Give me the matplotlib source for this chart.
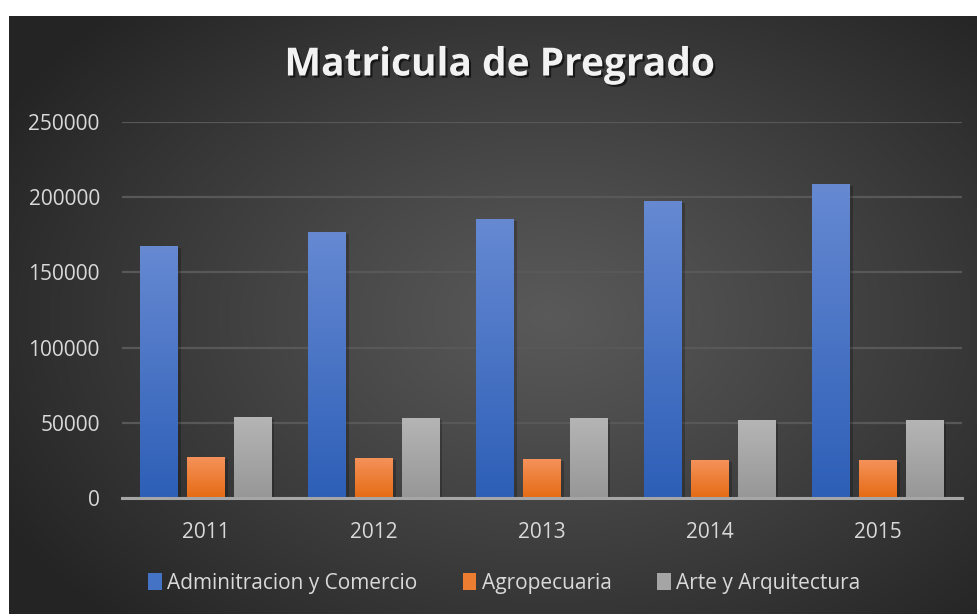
import numpy as np
import matplotlib
matplotlib.use("Agg")
import matplotlib.pyplot as plt
import matplotlib.patheffects as pe
from matplotlib.patches import Patch

years = ["2011", "2012", "2013", "2014", "2015"]
admin = [167500, 177000, 185500, 197500, 208800]
agro = [27300, 26600, 26000, 25500, 25300]
arte = [53900, 53200, 53200, 52000, 51900]
series_names = ["Adminitracion y Comercio", "Agropecuaria", "Arte y Arquitectura"]

# top / bottom colours for the vertical bar gradients
grads = [("#6689d2", "#2d5fb7"), ("#f5935c", "#e56b14"), ("#b5b5b5", "#979797")]
solid = ["#4472c4", "#ed7d31", "#a5a5a5"]
txt = "#d9d9d9"

plt.rcParams["font.family"] = ["Open Sans", "DejaVu Sans"]

W, H = 977, 614
fig = plt.figure(figsize=(W / 100, H / 100), dpi=100)
fig.patch.set_facecolor("white")

# radial gradient chart background
bg = fig.add_axes([9 / W, 0, (W - 9) / W, (H - 16) / H], zorder=-5)
yy, xx = np.mgrid[0:H - 16, 0:W - 9]
r = np.sqrt(((xx - 540) / 620.0) ** 2 + ((yy - 300) / 420.0) ** 2)
r = np.clip(r, 0, 1)
lvl = 0.35 + (0.145 - 0.35) * r ** 1.1
bg.imshow(np.dstack([lvl, lvl, lvl]), aspect="auto", interpolation="bilinear")
bg.axis("off")

ax = fig.add_axes([122 / W, (H - 498) / H, (962 - 122) / W, (498 - 122) / H])
ax.set_facecolor("none")

x = np.arange(len(years))
bw = 0.226
step = 0.277
all_bars = []
for i, vals in enumerate([admin, agro, arte]):
    bars = ax.bar(x + (i - 1) * step, vals, bw, color=solid[i], zorder=3,
                  path_effects=[pe.SimplePatchShadow(offset=(2, -1.5), shadow_rgbFace="black", alpha=0.22),
                                pe.Normal()])
    all_bars.append((bars, grads[i]))

ax.set_xlim(-0.5, len(years) - 0.5)
ax.set_ylim(0, 250000)

for bars, (top, bot) in all_bars:
    c1 = np.array(matplotlib.colors.to_rgb(top))
    c2 = np.array(matplotlib.colors.to_rgb(bot))
    t = np.linspace(0, 1, 100)[:, None]
    img = (c1 * (1 - t) + c2 * t)[:, None, :]
    for p in bars:
        x0, y0, w, h = p.get_x(), p.get_y(), p.get_width(), p.get_height()
        im = ax.imshow(img, extent=[x0, x0 + w, y0, y0 + h], aspect="auto",
                       zorder=4, interpolation="bilinear")
        im.set_clip_path(p)

ax.set_xlim(-0.5, len(years) - 0.5)
ax.set_ylim(0, 250000)
ax.set_aspect("auto")

ax.set_yticks(np.arange(0, 250001, 50000))
ax.set_yticklabels([str(v) for v in range(0, 250001, 50000)])
ax.set_xticks(x)
ax.set_xticklabels(years)
ax.tick_params(axis="both", length=0, colors=txt, labelsize=15)
ax.tick_params(axis="y", pad=16)
ax.tick_params(axis="x", pad=17)
ax.grid(axis="y", color="#585858", linewidth=1.6, zorder=0)
for s in ["top", "right", "left"]:
    ax.spines[s].set_visible(False)
ax.spines["bottom"].set_color("#a6a6a6")
ax.spines["bottom"].set_linewidth(2.2)
ax.spines["bottom"].set_zorder(5)

fig.text(0.511, 1 - 65 / H, "Matricula de Pregrado", ha="center", va="center",
         color="#f2f2f2", fontsize=28, fontweight="bold",
         path_effects=[pe.withSimplePatchShadow(offset=(1.5, -1.5), shadow_rgbFace="black", alpha=0.6)])

handles = [Patch(facecolor=solid[i], edgecolor="none") for i in range(3)]
leg = fig.legend(handles, series_names, loc="center", bbox_to_anchor=(0.516, 1 - 583 / H),
                 ncol=3, frameon=False, fontsize=15, labelcolor=txt,
                 handlelength=0.65, handleheight=0.85, handletextpad=0.25, columnspacing=2.2)

fig.savefig("out.png", dpi=100, facecolor=fig.get_facecolor())
